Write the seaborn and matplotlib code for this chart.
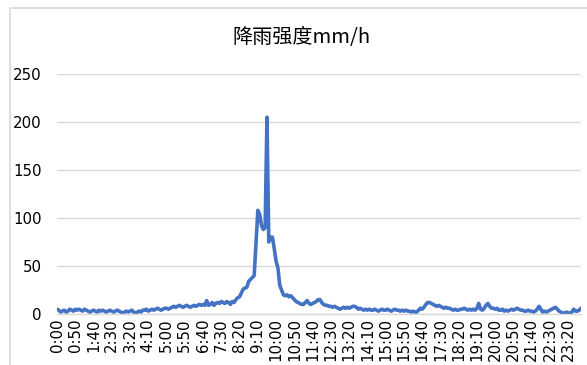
import numpy as np
import pandas as pd
import matplotlib
matplotlib.use("Agg")
import matplotlib.pyplot as plt
from matplotlib.patches import Rectangle
import seaborn as sns

# Rainfall intensity (mm/h), one reading every 5 minutes, one row per hour
intensity = [
    5, 4, 2, 3, 4, 2, 3, 5, 4, 3, 5, 4,            # 0:00
    5, 4, 3, 5, 4, 3, 2, 3, 4, 3, 2, 4,            # 1:00
    3, 4, 3, 2, 3, 4, 3, 2, 3, 4, 3, 2,            # 2:00
    1, 2, 3, 2, 3, 4, 2, 1, 2, 3, 2, 4,            # 3:00
    4, 5, 3, 4, 5, 4, 5, 6, 5, 4, 5, 6,            # 4:00
    6, 5, 6, 7, 8, 7, 8, 9, 8, 7, 8, 9,            # 5:00
    8, 7, 8, 9, 8, 9, 10, 9, 10, 9, 14, 9,         # 6:00
    10, 12, 9, 11, 12, 11, 13, 12, 11, 13, 12, 10, # 7:00
    13, 12, 15, 17, 18, 22, 26, 27, 28, 34, 36, 38,   # 8:00
    40, 75, 108, 104, 92, 88, 90, 205, 75, 80, 80, 68,  # 9:00
    55, 48, 30, 25, 20, 19, 20, 18, 19, 17, 15, 13,  # 10:00
    12, 11, 10, 10, 12, 14, 11, 10, 11, 12, 13, 15,  # 11:00
    15, 12, 10, 9, 9, 8, 8, 7, 8, 7, 6, 5,         # 12:00
    6, 7, 6, 7, 6, 7, 8, 8, 7, 5, 6, 5,            # 13:00
    4, 5, 4, 5, 4, 4, 5, 4, 3, 4, 5, 4,            # 14:00
    4, 5, 4, 3, 4, 5, 4, 4, 3, 4, 3, 4,            # 15:00
    3, 3, 2, 3, 2, 2, 4, 6, 5, 7, 10, 12,          # 16:00
    12, 11, 10, 9, 8, 9, 8, 7, 6, 7, 6, 6,         # 17:00
    5, 4, 5, 4, 4, 5, 5, 6, 5, 4, 5, 4,            # 18:00
    5, 4, 6, 11, 5, 4, 6, 9, 11, 8, 6, 6,          # 19:00
    5, 6, 4, 4, 5, 3, 4, 3, 4, 5, 4, 5,            # 20:00
    6, 5, 4, 4, 3, 3, 4, 3, 3, 2, 3, 5,            # 21:00
    8, 5, 2, 3, 2, 3, 4, 5, 6, 7, 5, 3,            # 22:00
    2, 1, 1, 2, 1, 1, 2, 5, 3, 3, 4, 6,            # 23:00
]

tick_labels = [
    "0:00", "0:50", "1:40", "2:30", "3:20", "4:10", "5:00", "5:50",
    "6:40", "7:30", "8:20", "9:10", "10:00", "10:50", "11:40", "12:30",
    "13:20", "14:10", "15:00", "15:50", "16:40", "17:30", "18:20",
    "19:10", "20:00", "20:50", "21:40", "22:30", "23:20",
]
y_ticks = [0, 50, 100, 150, 200, 250]
title = "降雨强度mm/h"

df = pd.DataFrame({"step": np.arange(len(intensity)), "intensity": intensity})

sns.set_theme(style="white")
plt.rcParams["font.family"] = ["DejaVu Sans"]

fig = plt.figure(figsize=(5.87, 3.65), dpi=100)
ax = fig.add_axes([57 / 587, 1 - 314 / 365, (581 - 57) / 587, (314 - 74) / 365])

sns.lineplot(data=df, x="step", y="intensity", ax=ax, color="#4472C4",
             linewidth=2.6, solid_joinstyle="round")

ax.set_xlim(0, len(intensity) - 1)
ax.set_ylim(0, 250)
ax.set_yticks(y_ticks)
ax.set_yticklabels([str(v) for v in y_ticks], fontsize=10.8, color="#000000")
ax.set_xticks(np.arange(0, len(intensity), 10))
ax.set_xticklabels(tick_labels, rotation=90, fontsize=10.8, color="#000000")
ax.tick_params(axis="y", length=0, pad=11)
ax.tick_params(axis="x", length=0, pad=3)
ax.set_xlabel("")
ax.set_ylabel("")

ax.yaxis.grid(True, color="#d9d9d9", linewidth=1)
ax.xaxis.grid(False)
ax.set_axisbelow(True)
for side in ["top", "right", "left"]:
    ax.spines[side].set_visible(False)
ax.spines["bottom"].set_color("#d9d9d9")
ax.spines["bottom"].set_linewidth(1)

fig.text(302 / 587, 1 - 37 / 365, title, ha="center", va="center",
         fontsize=14.5, family=["Noto Sans CJK SC", "DejaVu Sans"], color="#000000")

# chart-area frame
fig.patches.append(Rectangle((10 / 587, -0.1), 1.2, 1 - 8 / 365 + 0.1,
                             transform=fig.transFigure, fill=False,
                             edgecolor="#d9d9d9", linewidth=1.2))

fig.savefig("out.png", dpi=100)
